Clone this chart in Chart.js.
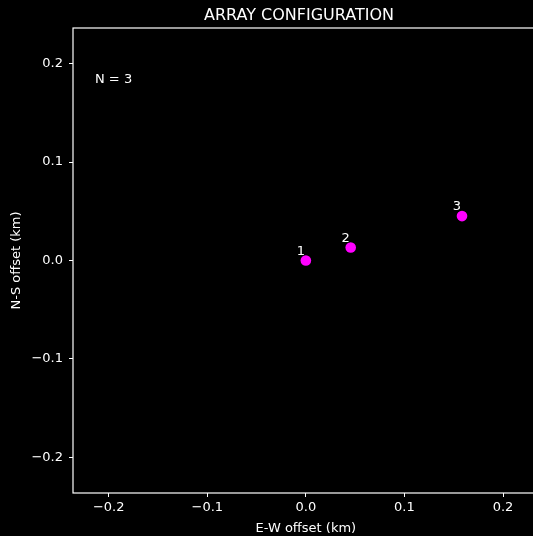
<!DOCTYPE html>
<html>
<head>
<meta charset="utf-8">
<script src="https://cdn.jsdelivr.net/npm/chart.js@4/dist/chart.umd.min.js"></script>
<style>
  html, body { margin: 0; padding: 0; background: #000; overflow: hidden; }
  #wrap { position: absolute; left: 0; top: 0; width: 544px; height: 536px; }
</style>
</head>
<body>
<div id="wrap"><canvas id="chart"></canvas></div>
<script>
const antennaLabels = ['1', '2', '3'];
const ewOffsets = [0.0, 0.0455, 0.1584];
const nsOffsets = [0.0, 0.0132, 0.0451];
const tickValues = [-0.2, -0.1, 0.0, 0.1, 0.2];
const axisLimit = 0.2362;

const FONT = "'DejaVu Sans', sans-serif";

function fmtTick(v) {
    const s = Math.abs(v).toFixed(1);
    return v < -1e-9 ? '\u2212' + s : s;
}

const overlay = {
    id: 'overlay',
    afterDraw(chart) {
        const { ctx, chartArea: a, scales } = chart;
        ctx.save();
        // axes frame
        ctx.strokeStyle = '#ffffff';
        ctx.lineWidth = 1.2;
        ctx.strokeRect(a.left, a.top, a.right - a.left, a.bottom - a.top);

        // title
        ctx.fillStyle = '#ffffff';
        ctx.font = '16px ' + FONT;
        ctx.textAlign = 'center';
        ctx.textBaseline = 'alphabetic';
        ctx.fillText('ARRAY CONFIGURATION', 299, 20);

        // count annotation
        ctx.font = '13px ' + FONT;
        ctx.textAlign = 'left';
        ctx.fillText('N = ' + antennaLabels.length, a.left + 22, a.top + 55);

        // point labels
        ctx.textAlign = 'center';
        antennaLabels.forEach((lab, i) => {
            const px = scales.x.getPixelForValue(ewOffsets[i]);
            const py = scales.y.getPixelForValue(nsOffsets[i]);
            ctx.fillText(lab, px - 5, py - 6);
        });
        ctx.restore();
    }
};

new Chart(document.getElementById('chart'), {
    type: 'scatter',
    data: {
        datasets: [{
            data: ewOffsets.map((x, i) => ({ x: x, y: nsOffsets[i] })),
            backgroundColor: '#ff00ff',
            borderColor: '#ff00ff',
            pointRadius: 5.3,
            pointHoverRadius: 5.3,
            borderWidth: 0
        }]
    },
    options: {
        responsive: true,
        maintainAspectRatio: false,
        animation: false,
        layout: { padding: { top: 28, right: 2, left: 0, bottom: 0 } },
        plugins: {
            legend: { display: false },
            tooltip: { enabled: false }
        },
        scales: {
            x: {
                type: 'linear',
                min: -axisLimit,
                max: axisLimit,
                afterBuildTicks: s => { s.ticks = tickValues.map(v => ({ value: v })); },
                afterFit: s => { s.height = 43; },
                grid: { display: true, drawOnChartArea: false, tickLength: 4, tickColor: '#ffffff', tickWidth: 1 },
                border: { display: false },
                ticks: {
                    color: '#ffffff',
                    font: { family: FONT, size: 13 },
                    padding: 3,
                    maxRotation: 0,
                    callback: v => fmtTick(v)
                },
                title: {
                    display: true,
                    text: 'E-W offset (km)',
                    color: '#ffffff',
                    font: { family: FONT, size: 13 },
                    padding: { top: 0, bottom: 0 }
                }
            },
            y: {
                type: 'linear',
                min: -axisLimit,
                max: axisLimit,
                afterBuildTicks: s => { s.ticks = tickValues.map(v => ({ value: v })); },
                afterFit: s => { s.width = 73; },
                grid: { display: true, drawOnChartArea: false, tickLength: 4, tickColor: '#ffffff', tickWidth: 1 },
                border: { display: false },
                ticks: {
                    color: '#ffffff',
                    font: { family: FONT, size: 13 },
                    padding: 6,
                    callback: v => fmtTick(v)
                },
                title: {
                    display: true,
                    text: 'N-S offset (km)',
                    color: '#ffffff',
                    font: { family: FONT, size: 13 },
                    padding: { top: 9, bottom: 0 }
                }
            }
        }
    },
    plugins: [overlay]
});
</script>
</body>
</html>
